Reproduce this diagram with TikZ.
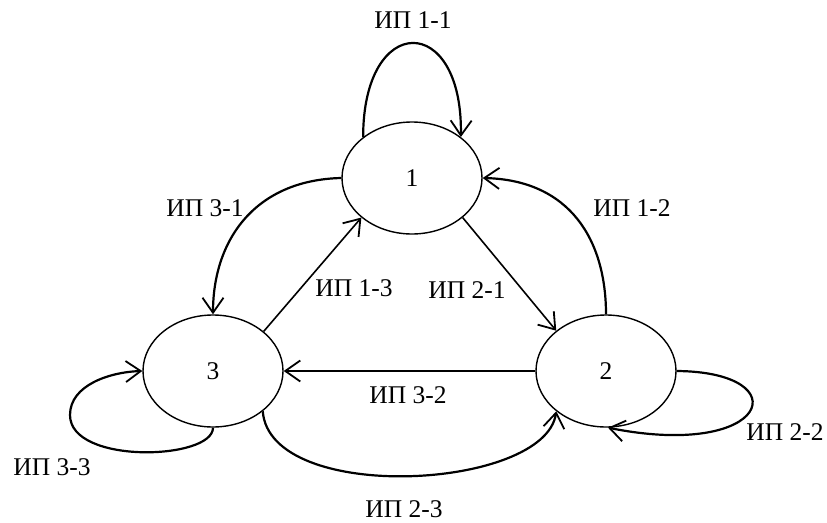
\documentclass[tikz,border=0pt]{standalone}
\usepackage{fontspec}
\setmainfont{Liberation Serif}
\usetikzlibrary{arrows.meta,shapes.geometric}
\begin{document}
\begin{tikzpicture}[x=1pt,y=-1pt,
  st/.style={draw, ellipse, line width=1.4pt, minimum width=140pt, minimum height=112pt, inner sep=0pt, font=\fontsize{25.5}{30}\selectfont},
  lbl/.style={font=\fontsize{25.5}{30}\selectfont, inner sep=0pt},
  tip/.style={-{Straight Barb[length=15pt,width=21pt,line width=1.8pt]}},
  arc/.style={tip, line width=2.2pt},
  arl/.style={tip, line width=1.6pt}]
\useasboundingbox (0,0) rectangle (827,522);
\node[st] (n1) at (412,178) {1};
\node[st] (n2) at (606,371) {2};
\node[st] (n3) at (213,371) {3};
% loops
\draw[arc] (n1.140) .. controls (363,12) and (463,12) .. (n1.40);
\draw[arc] (n2.east) .. controls (800,372) and (770,460) .. (n2.-88);
\draw[arc] (n3.south) .. controls (213,460) and (70,465) .. (70,415) .. controls (70,385) and (110,372) .. (n3.west);
% curved
\draw[arc] (n2.north) .. controls (606,240) and (570,180) .. (n1.east);
\draw[arc] (n1.west) .. controls (255,180) and (213,240) .. (n3.north);
\draw[arc] (n3.-39) .. controls (270,505) and (545,490) .. (n2.-141);
% straight
\draw[arl] (n1.-38.7) -- (n2.141.3);
\draw[arl] (n3.38) -- (n1.-142);
\draw[arl] (n2.west) -- (n3.east);
% labels
\node[lbl] (l11) at (413,20) {ИП 1-1};
\node[lbl] (l12) at (632,208) {ИП 1-2};
\node[lbl] (l21) at (467,290) {ИП 2-1};
\node[lbl] (l31) at (205,208) {ИП 3-1};
\node[lbl] (l13) at (354,288) {ИП 1-3};
\node[lbl] (l32) at (408,395) {ИП 3-2};
\node[lbl] (l23) at (404,509) {ИП 2-3};
\node[lbl] (l22) at (785,432) {ИП 2-2};
\node[lbl] (l33) at (52,467) {ИП 3-3};
\end{tikzpicture}
\end{document}
